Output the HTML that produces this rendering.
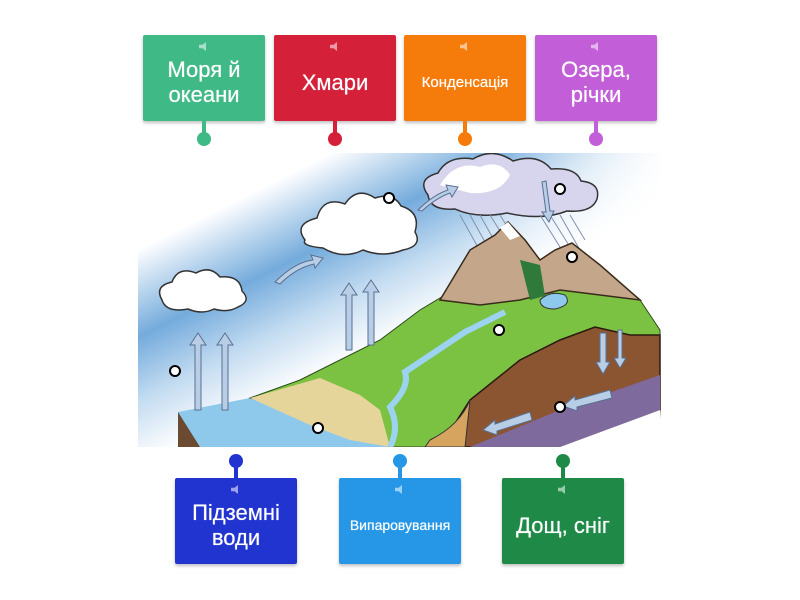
<!DOCTYPE html>
<html><head><meta charset="utf-8"><style>
body{margin:0;width:800px;height:600px;background:#fff;position:relative;overflow:hidden;font-family:"Liberation Sans","DejaVu Sans",sans-serif}
.t{position:absolute;width:122px;height:86px;border-radius:2px;color:#fff;display:flex;align-items:center;justify-content:center;text-align:center;box-shadow:0 2px 3px rgba(0,0,0,.25);font-size:22px;line-height:25px;padding-top:8px;box-sizing:border-box;text-shadow:0 0 .6px #fff}
.t:before{content:"";position:absolute;top:7px;left:56px;width:10px;height:9px;background:rgba(255,255,255,.55);clip-path:polygon(0 30%,35% 30%,70% 0,70% 100%,35% 70%,0 70%)}
.s{position:absolute;width:4px;margin-left:-2px}
.d{position:absolute;width:14px;height:14px;border-radius:50%;margin:-7px 0 0 -7px}
</style></head><body>
<svg style="position:absolute;left:0;top:0" width="800" height="600">
<defs>
<linearGradient id="sky" gradientUnits="userSpaceOnUse" x1="200" y1="160" x2="330" y2="420"><stop offset="0" stop-color="#fff"/><stop offset=".18" stop-color="#fff"/><stop offset=".45" stop-color="#74abdc"/><stop offset=".65" stop-color="#c4dcf1"/><stop offset=".85" stop-color="#fff"/></linearGradient>
<linearGradient id="sky2" gradientUnits="userSpaceOnUse" x1="480" y1="160" x2="660" y2="200"><stop offset="0" stop-color="#fff" stop-opacity="0"/><stop offset="1" stop-color="#fff"/></linearGradient>
<clipPath id="c"><rect x="138" y="153" width="524" height="294"/></clipPath>
</defs>
<g clip-path="url(#c)">
<rect x="138" y="153" width="524" height="294" fill="url(#sky)"/>
<rect x="138" y="153" width="524" height="294" fill="url(#sky2)"/>
<g stroke="#333" stroke-width="1.5">
<path fill="#fff" d="M162 300 q-8-14 10-18 q6-16 24-9 q14-8 24 4 q20-2 22 14 q10 10-4 16 q-10 6-24 2 q-12 6-26 0 q-22 4-26-9z"/>
<path fill="#fff" d="M305 240 q-12-16 12-22 q6-22 28-14 q12-18 30-6 q18-6 26 8 q20 6 14 26 q8 14-12 18 q-20 8-40 0 q-20 10-40-2 q-22-2-18-8z"/>
<path fill="#d7d4ee" d="M428 195 q-12-16 10-22 q10-18 35-14 q20-12 40 2 q25-8 38 8 q25-2 30 12 q20 2 16 18 q-5 14-30 12 q-25 10-60 2 q-30 6-52-4 q-25 2-27-14z"/>
<path fill="#fff" stroke="none" d="M440 185 q15-25 40-18 q20-8 30 8 q-10 20-40 18z"/>
</g>
<g stroke="#8090b0" stroke-width="1">
<path d="M460 215 l25 45 M470 215 l25 45 M480 215 l25 45 M490 215 l25 40 M500 215 l25 40 M540 215 l25 40 M550 215 l25 40 M560 215 l20 35 M570 215 l15 25"/>
</g>
<path d="M178 412 L250 398 L330 420 L390 447 L178 447z" fill="#8ec9ec"/>
<path d="M178 412 L178 447 L200 447z" fill="#6a4a30"/>
<path d="M250 398 L300 380 L380 340 L420 310 L445 295 L540 285 L600 280 L640 300 L660 330 L660 447 L390 447 L330 420z" fill="#7cc242" stroke="#2a4a1a" stroke-width="1"/>
<path d="M250 398 L320 378 L360 395 L380 410 L390 447 L350 440 L310 425z" fill="#e6d59a"/>
<path d="M440 300 L470 250 L495 235 L508 222 L525 240 L540 260 L555 250 L572 243 L600 265 L640 300 L600 295 L560 290 L520 300 L480 305z" fill="#c4a78a" stroke="#3a2a1a" stroke-width="1.5"/>
<path d="M500 228 L508 222 L520 236 L510 240z" fill="#fff"/>
<path d="M520 260 L530 300 L545 296 L540 265z" fill="#2f7a3a"/>
<path d="M540 300 q10-10 25-5 q8 10-10 14 q-15 0-15-9z" fill="#8ec9ec" stroke="#333"/>
<path d="M390 447 q10-20 0-40 q20-20 15-35 q30-20 60-40 q20-10 40-20" stroke="#9cd3f0" stroke-width="6" fill="none"/>
<path d="M440 447 L470 400 L520 360 L560 340 L595 327 L630 335 L660 335 L660 410 L560 447z" fill="#8a5530" stroke="#2a1a10" stroke-width="1.5"/>
<path d="M470 447 L560 410 L660 375 L660 410 L560 447z" fill="#7e6a9c"/>
<path d="M660 410 L560 447 L662 447z" fill="#fff"/>
<path d="M470 400 q-10 25-40 40 l-5 7 h40z" fill="#d7a460" stroke="#333"/>
<g fill="#b8cde6" stroke="#5a7090" stroke-width="1">
<path d="M195 410 V345 h-5 l8-12 l8 12 h-5 V410z"/>
<path d="M222 410 V345 h-5 l8-12 l8 12 h-5 V410z"/>
<path d="M346 350 V295 h-5 l8-12 l8 12 h-5 V350z"/>
<path d="M368 345 V292 h-5 l8-12 l8 12 h-5 V345z"/>
<path d="M275 282 q20-20 38-22 l-2-5 l12 3 l-8 10 l-1-4 q-18 4-34 20z"/>
<path d="M418 210 q15-15 30-20 l-2-5 l12 2 l-6 10 l-2-4 q-14 5-28 18z"/>
<path d="M542 182 l4 30 h-4 l7 10 l5-11 h-4 l-4-30z"/>
<path d="M600 333 V362 h-4 l7 12 l7-12 h-4 V333z"/>
<path d="M618 330 V358 h-4 l6 10 l6-10 h-4 V330z"/>
<path d="M610 390 L575 400 v-4 l-12 10 l14 5 v-4 L612 398z"/>
<path d="M530 412 L495 424 v-4 l-12 10 l14 5 v-4 L532 420z"/>
</g>
</g>
<g fill="#fff" stroke="#000" stroke-width="2">
<circle cx="389" cy="198" r="5"/><circle cx="560" cy="189" r="5"/><circle cx="572" cy="257" r="5"/><circle cx="499" cy="330" r="5"/><circle cx="175" cy="371" r="5"/><circle cx="560" cy="407" r="5"/><circle cx="318" cy="428" r="5"/></g>
</svg>
<div class="t" style="left:143px;top:35px;background:#3fb985">Моря й<br>океани</div>
<div class="t" style="left:274px;top:35px;background:#d42039">Хмари</div>
<div class="t" style="left:404px;top:35px;background:#f57b0a;font-size:15px">Конденсація</div>
<div class="t" style="left:535px;top:35px;background:#c25fd8">Озера,<br>річки</div>
<div class="s" style="left:204px;top:121px;height:18px;background:#3fb985"></div><div class="d" style="left:204px;top:139px;background:#3fb985"></div>
<div class="s" style="left:335px;top:121px;height:18px;background:#d42039"></div><div class="d" style="left:335px;top:139px;background:#d42039"></div>
<div class="s" style="left:465px;top:121px;height:18px;background:#f57b0a"></div><div class="d" style="left:465px;top:139px;background:#f57b0a"></div>
<div class="s" style="left:596px;top:121px;height:18px;background:#c25fd8"></div><div class="d" style="left:596px;top:139px;background:#c25fd8"></div>
<div class="t" style="left:175px;top:478px;background:#2234d0">Підземні<br>води</div>
<div class="t" style="left:339px;top:478px;background:#2597e6;font-size:14px">Випаровування</div>
<div class="t" style="left:502px;top:478px;background:#1f8a48">Дощ, сніг</div>
<div class="s" style="left:236px;top:461px;height:17px;background:#2234d0"></div><div class="d" style="left:236px;top:461px;background:#2234d0"></div>
<div class="s" style="left:400px;top:461px;height:17px;background:#2597e6"></div><div class="d" style="left:400px;top:461px;background:#2597e6"></div>
<div class="s" style="left:563px;top:461px;height:17px;background:#1f8a48"></div><div class="d" style="left:563px;top:461px;background:#1f8a48"></div>
</body></html>
